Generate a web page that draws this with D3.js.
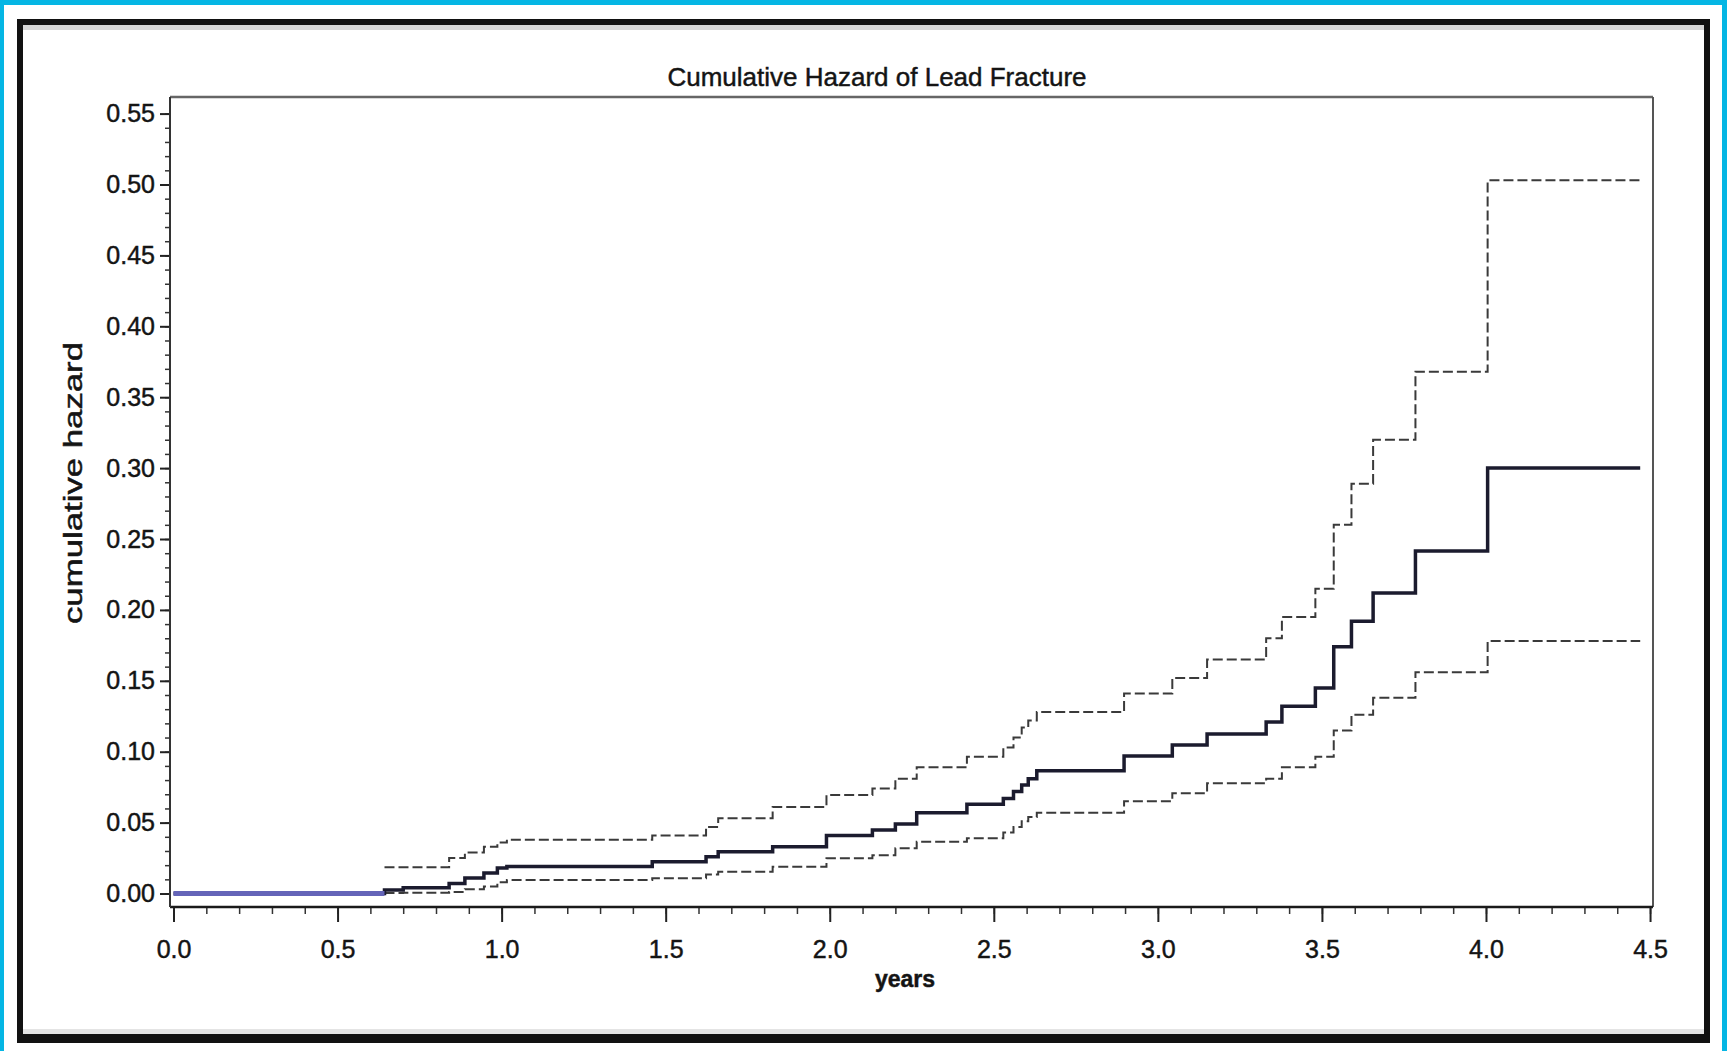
<!DOCTYPE html>
<html>
<head>
<meta charset="utf-8">
<script src="https://cdn.jsdelivr.net/npm/d3@7"></script>
<style>
  html, body { margin: 0; padding: 0; background: #ffffff; }
  svg { display: block; }
  text { font-family: "Liberation Sans", Arial, sans-serif; fill: #141414; stroke: #141414; stroke-width: 0.45px; }
</style>
</head>
<body>
<svg id="chart" width="1727" height="1051"></svg>
<script>
// Nelson-Aalen style cumulative hazard with pointwise confidence limits.
// Each value holds from its time until the next time (step function).
const eventTimes = [0, 0.643, 0.70, 0.84, 0.888, 0.946, 0.987, 1.016, 1.459, 1.623, 1.66, 1.826,
  1.99, 2.13, 2.20, 2.265, 2.418, 2.529, 2.56, 2.585, 2.605, 2.631, 2.897, 3.044, 3.15,
  3.33, 3.378, 3.48, 3.536, 3.59, 3.656, 3.785, 4.005];
const cumHazard = [0, 0.0025, 0.004, 0.007, 0.011, 0.0145, 0.018, 0.019, 0.0224, 0.026, 0.0295, 0.033,
  0.041, 0.0448, 0.049, 0.057, 0.063, 0.067, 0.072, 0.0765, 0.081, 0.0866, 0.097, 0.1047, 0.1125,
  0.121, 0.132, 0.145, 0.174, 0.192, 0.212, 0.2415, 0.30];
const upperLimit = [null, 0.0185, 0.0185, 0.025, 0.029, 0.033, 0.036, 0.038, 0.041, 0.047, 0.053, 0.061,
  0.0695, 0.074, 0.081, 0.089, 0.0965, 0.103, 0.110, 0.117, 0.122, 0.128, 0.141, 0.152, 0.165,
  0.180, 0.195, 0.215, 0.26, 0.289, 0.32, 0.368, 0.503];
const lowerLimit = [null, 0.0004, 0.0005, 0.001, 0.003, 0.005, 0.008, 0.0095, 0.0107, 0.0135, 0.0154, 0.0189,
  0.0248, 0.027, 0.032, 0.0366, 0.039, 0.043, 0.047, 0.051, 0.054, 0.057, 0.065, 0.0707, 0.0777,
  0.081, 0.089, 0.0965, 0.115, 0.126, 0.138, 0.156, 0.178];
const followUpEnd = 4.47;

const xMajorTicks = [0, 0.5, 1.0, 1.5, 2.0, 2.5, 3.0, 3.5, 4.0, 4.5];
const yMajorTicks = [0, 0.05, 0.10, 0.15, 0.20, 0.25, 0.30, 0.35, 0.40, 0.45, 0.50, 0.55];

const titleText = "Cumulative Hazard of Lead Fracture";
const xTitle = "years";
const yTitle = "cumulative hazard";

const svg = d3.select("#chart");
const W = 1727, H = 1051;

// page frame: cyan edge, white gap, black border
svg.append("rect").attr("x", 0).attr("y", 0).attr("width", W).attr("height", H).attr("fill", "#ffffff");
const cyan = "#05b6e4";
svg.append("rect").attr("x", 0).attr("y", 0).attr("width", W).attr("height", 5).attr("fill", cyan);
svg.append("rect").attr("x", 0).attr("y", 0).attr("width", 4).attr("height", H).attr("fill", cyan);
svg.append("rect").attr("x", W - 5).attr("y", 0).attr("width", 5).attr("height", H).attr("fill", cyan);

const frame = svg.append("g");
frame.append("rect").attr("x", 17).attr("y", 19).attr("width", 1693).attr("height", 6).attr("fill", "#111");
frame.append("rect").attr("x", 17).attr("y", 1034).attr("width", 1693).attr("height", 9).attr("fill", "#111");
frame.append("rect").attr("x", 17).attr("y", 19).attr("width", 6).attr("height", 1024).attr("fill", "#111");
frame.append("rect").attr("x", 1704).attr("y", 19).attr("width", 6).attr("height", 1024).attr("fill", "#111");
frame.append("rect").attr("x", 23).attr("y", 25).attr("width", 1681).attr("height", 5).attr("fill", "#d6d6d6");
frame.append("rect").attr("x", 23).attr("y", 1029).attr("width", 1681).attr("height", 5).attr("fill", "#e4e4e4");

// plot area
const plot = { left: 170, right: 1653, top: 97, bottom: 907 };
const x = d3.scaleLinear().domain([-0.0107, 4.509]).range([plot.left, plot.right]);
const y = d3.scaleLinear().domain([-0.0095, 0.5617]).range([plot.bottom, plot.top]);

// title
svg.append("text")
  .attr("x", 877).attr("y", 86)
  .attr("text-anchor", "middle")
  .style("font-size", "26px")
  .text(titleText);

// plot border (top and right)
svg.append("line").attr("x1", plot.left).attr("x2", plot.right).attr("y1", plot.top).attr("y2", plot.top)
  .attr("stroke", "#666").attr("stroke-width", 2.5);
svg.append("line").attr("x1", plot.right).attr("x2", plot.right).attr("y1", plot.top).attr("y2", plot.bottom)
  .attr("stroke", "#555").attr("stroke-width", 2);

// x axis: minor ticks every 0.1, major every 0.5
const xMinor = d3.range(0, 45.5, 1).map(d => d / 10);
svg.append("g").attr("transform", `translate(0,${plot.bottom})`)
  .call(d3.axisBottom(x).tickValues(xMinor).tickSize(7).tickFormat(""))
  .call(g => g.select(".domain").remove())
  .call(g => g.selectAll("line").attr("stroke", "#333").attr("stroke-width", 1.5));
svg.append("g").attr("transform", `translate(0,${plot.bottom})`)
  .call(d3.axisBottom(x).tickValues(xMajorTicks).tickSize(15).tickPadding(18).tickFormat(d3.format(".1f")))
  .call(g => g.select(".domain").remove())
  .call(g => g.selectAll("line").attr("stroke", "#222").attr("stroke-width", 2))
  .call(g => g.selectAll("text").style("font-size", "25px").attr("fill", "#141414")
    .attr("font-family", "Liberation Sans, Arial, sans-serif"));

// y axis: minor ticks every 0.01, major every 0.05
const yMinor = d3.range(0, 56, 1).map(d => d / 100);
svg.append("g").attr("transform", `translate(${plot.left},0)`)
  .call(d3.axisLeft(y).tickValues(yMinor).tickSize(5).tickFormat(""))
  .call(g => g.select(".domain").remove())
  .call(g => g.selectAll("line").attr("stroke", "#333").attr("stroke-width", 1.5));
svg.append("g").attr("transform", `translate(${plot.left},0)`)
  .call(d3.axisLeft(y).tickValues(yMajorTicks).tickSize(10).tickPadding(5).tickFormat(d3.format(".2f")))
  .call(g => g.select(".domain").remove())
  .call(g => g.selectAll("line").attr("stroke", "#222").attr("stroke-width", 2))
  .call(g => g.selectAll("text").style("font-size", "25px").attr("fill", "#141414")
    .attr("font-family", "Liberation Sans, Arial, sans-serif"));

// axis lines
svg.append("line").attr("x1", plot.left).attr("x2", plot.right).attr("y1", plot.bottom).attr("y2", plot.bottom)
  .attr("stroke", "#1a1a1a").attr("stroke-width", 2.5);
svg.append("line").attr("x1", plot.left).attr("x2", plot.left).attr("y1", plot.top).attr("y2", plot.bottom)
  .attr("stroke", "#333").attr("stroke-width", 2);

// axis titles
svg.append("text")
  .attr("x", 905).attr("y", 987)
  .attr("text-anchor", "middle")
  .style("font-size", "23px").style("font-weight", "bold")
  .text(xTitle);
svg.append("text")
  .attr("transform", "translate(82,483) rotate(-90)")
  .attr("text-anchor", "middle")
  .attr("textLength", 282).attr("lengthAdjust", "spacingAndGlyphs")
  .style("font-size", "25px")
  .text(yTitle);

// step series
function stepSeries(values) {
  const pts = eventTimes.map((t, i) => ({ t, v: values[i] }));
  pts.push({ t: followUpEnd, v: values[values.length - 1] });
  return pts;
}
const stepLine = d3.line()
  .defined(d => d.v !== null)
  .x(d => x(d.t))
  .y(d => y(d.v))
  .curve(d3.curveStepAfter);

const lines = svg.append("g").attr("fill", "none");

// confidence limits (dashed)
[upperLimit, lowerLimit].forEach(vals => {
  lines.append("path")
    .datum(stepSeries(vals))
    .attr("d", stepLine)
    .attr("stroke", "#3a3a3a")
    .attr("stroke-width", 2)
    .attr("stroke-dasharray", "10 4");
});

// estimate (solid)
lines.append("path")
  .datum(stepSeries(cumHazard))
  .attr("d", stepLine)
  .attr("stroke", "#1b1b2e")
  .attr("stroke-width", 3.5)
  .attr("stroke-linejoin", "miter");

// flat stretch before the first event is drawn in blue
lines.append("path")
  .datum([{ t: eventTimes[0], v: cumHazard[0] }, { t: eventTimes[1], v: cumHazard[0] }])
  .attr("d", stepLine)
  .attr("stroke", "#6464b8")
  .attr("stroke-width", 5);
</script>
</body>
</html>
